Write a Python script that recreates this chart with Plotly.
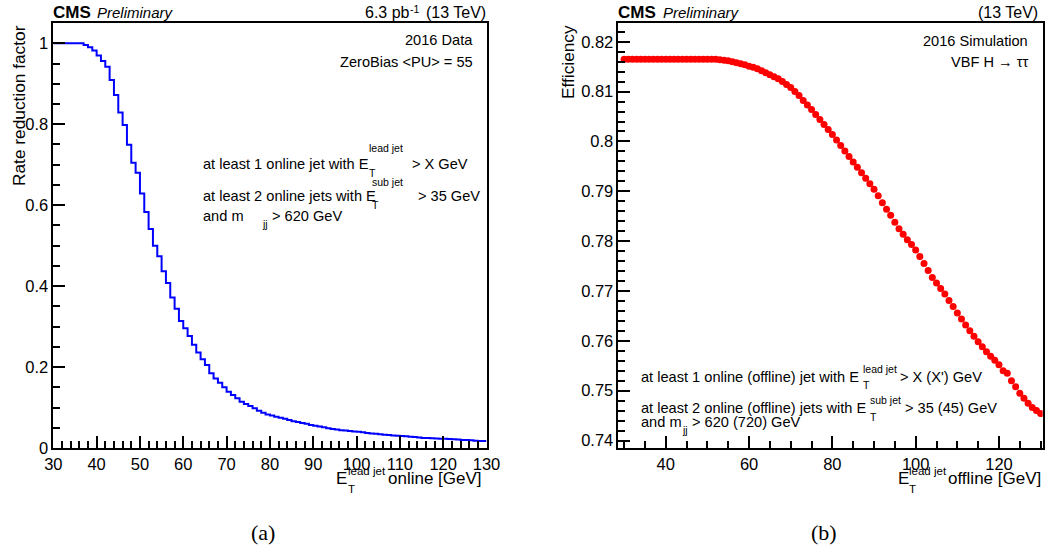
import plotly.graph_objects as go

# ---------------- data ----------------
# (a) rate reduction factor, 1 GeV bins from 30 to 130 GeV (low edges 30..129)
rate_bin_edges = list(range(30, 131))
rate_values = [
    1.000, 1.000, 1.000, 1.000, 1.000, 1.000, 1.000, 0.996, 0.990, 0.982,   # 30-39
    0.970, 0.956, 0.942, 0.909, 0.872, 0.829, 0.798, 0.749, 0.705, 0.680,   # 40-49
    0.629, 0.583, 0.541, 0.500, 0.474, 0.437, 0.408, 0.372, 0.344, 0.314,   # 50-59
    0.296, 0.277, 0.255, 0.236, 0.219, 0.205, 0.185, 0.172, 0.161, 0.150,   # 60-69
    0.139, 0.131, 0.123, 0.114, 0.109, 0.104, 0.098, 0.092, 0.087, 0.083,   # 70-79
    0.080, 0.077, 0.075, 0.072, 0.069, 0.066, 0.064, 0.062, 0.060, 0.057,   # 80-89
    0.055, 0.053, 0.051, 0.049, 0.047, 0.0455, 0.044, 0.043, 0.042, 0.041,  # 90-99
    0.040, 0.039, 0.037, 0.036, 0.035, 0.034, 0.033, 0.032, 0.031, 0.030,   # 100-109
    0.0295, 0.029, 0.028, 0.027, 0.026, 0.025, 0.0245, 0.024, 0.0235, 0.023,  # 110-119
    0.0228, 0.0222, 0.0215, 0.021, 0.020, 0.0195, 0.019, 0.018, 0.0175, 0.017,  # 120-129
]

# (b) efficiency vs offline leading-jet threshold, 30..130 GeV
eff_x = list(range(30, 131))
eff_values = [
    0.8165, 0.8165, 0.8165, 0.8165, 0.8165, 0.8165, 0.8165, 0.8165, 0.8165, 0.8165,  # 30-39
    0.8165, 0.8165, 0.8165, 0.8165, 0.8165, 0.8165, 0.8165, 0.8165, 0.8165, 0.8165,  # 40-49
    0.8165, 0.8165, 0.8165, 0.8164, 0.8163, 0.8162, 0.8160, 0.8158, 0.8156, 0.8154,  # 50-59
    0.8151, 0.8149, 0.8146, 0.8142, 0.8138, 0.8134, 0.8130, 0.8126, 0.8120, 0.8114,  # 60-69
    0.8108, 0.8100, 0.8092, 0.8082, 0.8073, 0.8064, 0.8054, 0.8044, 0.8034, 0.8024,  # 70-79
    0.8014, 0.8003, 0.7992, 0.7981, 0.7970, 0.7959, 0.7948, 0.7937, 0.7926, 0.7915,  # 80-89
    0.7904, 0.7891, 0.7877, 0.7864, 0.7852, 0.7838, 0.7825, 0.7814, 0.7803, 0.7793,  # 90-99
    0.7782, 0.7769, 0.7755, 0.7741, 0.7727, 0.7716, 0.7705, 0.7694, 0.7681, 0.7669,  # 100-109
    0.7656, 0.7644, 0.7632, 0.7620, 0.7609, 0.7598, 0.7588, 0.7578, 0.7569, 0.7561,  # 110-119
    0.7552, 0.7540, 0.7535, 0.7520, 0.7508, 0.7495, 0.7485, 0.7475, 0.7466, 0.7460,  # 120-129
    0.7454,                                                                        # 130
]

# ---------------- layout helpers ----------------
W, H = 1048, 549
SANS = "Liberation Sans, Arial, Helvetica, sans-serif"
SERIF = "Liberation Serif, Times New Roman, serif"


def px(x):
    return x / W


def py(y):
    return 1 - y / H


def T(text, x, y, size, anchor="left", yanchor="middle", family=SANS, angle=0):
    return dict(text=text, x=px(x), y=py(y), xref="paper", yref="paper",
                xanchor=anchor, yanchor=yanchor, showarrow=False,
                font=dict(family=family, size=size, color="black"),
                borderpad=0, borderwidth=0, textangle=angle)


fig = go.Figure()

fig.add_trace(go.Scatter(
    x=rate_bin_edges, y=rate_values + [rate_values[-1]],
    mode="lines", line=dict(color="#0000ff", width=2, shape="hv"),
    xaxis="x", yaxis="y", showlegend=False, hoverinfo="skip"))

fig.add_trace(go.Scatter(
    x=eff_x, y=eff_values, mode="markers",
    marker=dict(color="#ff0000", size=7, line=dict(width=0)),
    xaxis="x2", yaxis="y2", showlegend=False, hoverinfo="skip"))

axis_common = dict(showline=True, mirror=True, linecolor="black", linewidth=1.5,
                   ticks="inside", ticklen=12, tickwidth=1.5, tickcolor="black",
                   showgrid=False, zeroline=False, automargin=False,
                   tickfont=dict(family=SANS, size=16.5, color="black"))


def minor(d):
    return dict(dtick=d, ticks="inside", ticklen=7, tickwidth=1.5, tickcolor="black", showgrid=False)


y_dom = [py(448), py(23.3)]

fig.update_layout(
    width=W, height=H,
    margin=dict(l=0, r=0, t=0, b=0, autoexpand=False),
    paper_bgcolor="white", plot_bgcolor="white",
    xaxis=dict(domain=[px(53.3), px(486.5)], range=[30, 130], anchor="y",
               dtick=10, tick0=0, minor=minor(2), **axis_common),
    yaxis=dict(domain=y_dom, range=[0, 1.0494], anchor="x",
               dtick=0.2, tick0=0, minor=minor(0.05), **axis_common),
    xaxis2=dict(domain=[px(618.3), px(1042.7)], range=[28.6, 130.5], anchor="y2",
                dtick=20, tick0=0, minor=minor(5), **axis_common),
    yaxis2=dict(domain=y_dom, range=[0.7385, 0.8237], anchor="x2",
                dtick=0.01, tick0=0, minor=minor(0.002), **axis_common),
)

ann = []
# --- panel (a) header ---
ann.append(T("<b>CMS</b>", 53.3, 12.5, 17))
ann.append(T("<i>Preliminary</i>", 96.7, 12.8, 15))
ann.append(T("6.3 pb", 409.5, 13, 16, anchor="right"))
ann.append(T("-1", 409.5, 8.5, 10.5))
ann.append(T("(13 TeV)", 485.5, 13, 16, anchor="right"))
# --- panel (a) labels ---
ann.append(T("2016 Data", 472.7, 40, 14.6, anchor="right"))
ann.append(T("ZeroBias &lt;PU&gt; = 55", 473.3, 61.7, 14.6, anchor="right"))
ann.append(T("at least 1 online jet with E", 202.7, 164.5, 14.6))
ann.append(T("lead jet", 369.3, 148.3, 10.5))
ann.append(T("T", 369.0, 172.5, 10.5))
ann.append(T("&gt; X GeV", 412.0, 164.5, 14.6))
ann.append(T("at least 2 online jets with E", 202.7, 196.0, 14.6))
ann.append(T("sub jet", 371.7, 181.9, 10.5))
ann.append(T("T", 371.7, 204.7, 10.5))
ann.append(T("&gt; 35 GeV", 418.0, 196.0, 14.6))
ann.append(T("and m", 202.7, 216.0, 14.6))
ann.append(T("jj", 261.7, 223.5, 10.5))
ann.append(T("&gt; 620 GeV", 271.7, 216.0, 14.6))
# --- panel (a) axis titles ---
ann.append(T("Rate reduction factor", 19.5, 25, 17.3, anchor="center", yanchor="top", angle=-90))
ann.append(T("E", 336.0, 478.3, 17))
ann.append(T("lead jet", 347.5, 471.0, 11.5))
ann.append(T("T", 347.5, 488.5, 11.5))
ann.append(T("online [GeV]", 388.0, 478.3, 17))
ann.append(T("(a)", 263.0, 532.5, 22, anchor="center", family=SERIF))

# --- panel (b) header ---
ann.append(T("<b>CMS</b>", 618.3, 12.5, 17))
ann.append(T("<i>Preliminary</i>", 662.7, 12.8, 15))
ann.append(T("(13 TeV)", 1038.3, 13, 16, anchor="right"))
# --- panel (b) labels ---
ann.append(T("2016 Simulation", 1028.3, 41.3, 14.6, anchor="right"))
ann.append(T("VBF H \u2192 \u03c4\u03c4", 1028.3, 61.7, 14.6, anchor="right"))
ann.append(T("at least 1 online (offline) jet with E", 641.0, 376.7, 14.6))
ann.append(T("lead jet", 863.3, 369.0, 10.5))
ann.append(T("T", 863.3, 385.0, 10.5))
ann.append(T("&gt; X (X') GeV", 900.0, 376.7, 14.6))
ann.append(T("at least 2 online (offline) jets with E", 641.0, 408.3, 14.6))
ann.append(T("sub jet", 870.0, 400.0, 10.5))
ann.append(T("T", 870.0, 416.7, 10.5))
ann.append(T("&gt; 35 (45) GeV", 905.0, 408.3, 14.6))
ann.append(T("and m", 641.0, 421.7, 14.6))
ann.append(T("jj", 681.7, 430.0, 10.5))
ann.append(T("&gt; 620 (720) GeV", 691.7, 421.7, 14.6))
# --- panel (b) axis titles ---
ann.append(T("Efficiency", 568.0, 25, 17.3, anchor="center", yanchor="top", angle=-90))
ann.append(T("E", 897.7, 478.3, 17))
ann.append(T("lead jet", 909.0, 471.0, 11.5))
ann.append(T("T", 909.0, 488.5, 11.5))
ann.append(T("offline [GeV]", 948.3, 478.3, 17))
ann.append(T("(b)", 824.3, 532.5, 22, anchor="center", family=SERIF))

fig.update_layout(annotations=ann)

fig.write_html(
    "out.html",
    config={"displayModeBar": False},
    post_script="document.body.style.margin='0';document.body.style.padding='0';"
                "document.body.style.overflow='hidden';",
)
